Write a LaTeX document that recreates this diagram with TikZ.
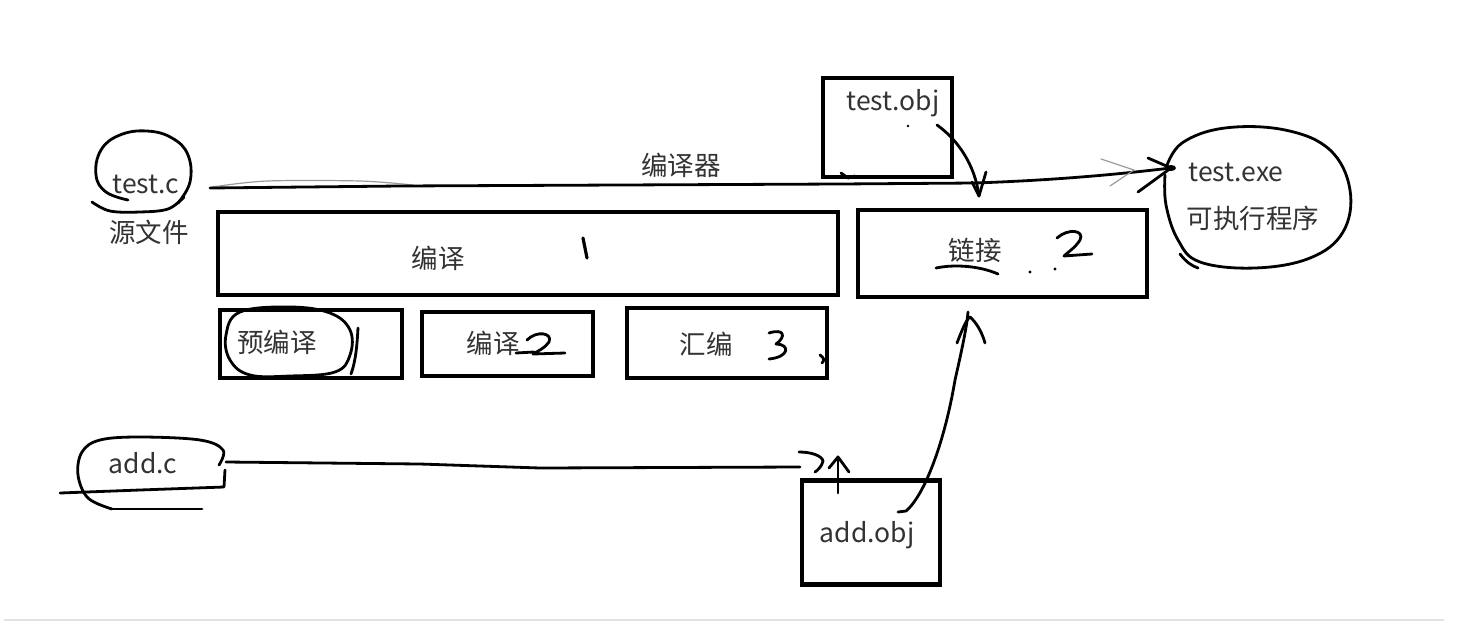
\documentclass[tikz,border=0pt]{standalone}
\usepackage{fontspec}
\setmainfont{Noto Sans CJK SC}
\definecolor{txtgray}{HTML}{333333}
\definecolor{ghost}{HTML}{9A9A9A}
\definecolor{rule}{HTML}{E2E2E2}
\begin{document}
\begin{tikzpicture}[x=1pt,y=-1pt,
  box/.style={draw=black, line width=4.5pt, inner sep=0pt},
  hand/.style={draw=black, line width=2.8pt, line cap=round, line join=round},
  thin/.style={draw=ghost, line width=1.2pt, line cap=round},
  txt/.style={text=txtgray, font=\fontsize{26.5}{31}\selectfont, inner sep=0pt}]
\useasboundingbox (0,0) rectangle (1458,635);
\fill[white] (0,0) rectangle (1458,635);

% ---------- boxes ----------
\node[box, minimum width=129pt, minimum height=99pt] (tobj) at (887.5,127.5) {};
\node[box, minimum width=620pt, minimum height=83pt] (compile) at (528,253.5) {};
\node[box, minimum width=289pt, minimum height=87pt] (link) at (1002.5,253.5) {};
\node[box, minimum width=182pt, minimum height=68pt] (pre) at (311,344) {};
\node[box, minimum width=171pt, minimum height=64pt] (comp2) at (507.5,344) {};
\node[box, minimum width=200pt, minimum height=70pt] (asm) at (727,343) {};
\node[box, minimum width=138pt, minimum height=104pt] (aobj) at (871,532.5) {};

% ---------- texts ----------
\node[txt] (tc) at (146,184) {test.c};
\node[txt] (src) at (149,232) {源文件};
\node[txt] (cc) at (681,165) {编译器};
\node[txt] (tobjt) at (893,103) {test.obj};
\node[txt] (texe) at (1236,172) {test.exe};
\node[txt] (exe) at (1253,218) {可执行程序};
\node[txt] (compt) at (438,258) {编译};
\node[txt] (linkt) at (975,250) {链接};
\node[txt] (pret) at (277,342) {预编译};
\node[txt] (comp2t) at (493,343) {编译};
\node[txt] (asmt) at (706,344) {汇编};
\node[txt] (ac) at (143,463) {add.c};
\node[txt] (aobjt) at (867,535) {add.obj};

% ---------- named points of the hand-drawn connectors ----------
\coordinate (tcOut) at (210,188);
\coordinate (exeIn) at (1171,168);
\coordinate (tobjOut) at (937,125);
\coordinate (linkTop) at (979,196);
\coordinate (acOut) at (226,462);
\coordinate (aobjIn) at (838,457);
\coordinate (aobjOut) at (898,512);
\coordinate (linkBot) at (968,312);

% ---------- circle around test.c ----------
\draw[hand] plot[smooth, tension=0.7] coordinates
  {(178,203) (190,182) (188,155) (172,138) (147,131) (120,135) (101,150) (96,175) (106,192) (128,200)};
\draw[hand] plot[smooth, tension=0.6] coordinates
  {(92,202) (110,211) (140,212) (168,209) (184,197)};

% ---------- main arrow test.c -> test.exe ----------
\draw[thin] plot[smooth, tension=0.5] coordinates {(212,187) (267,181) (360,181) (413,185)};
\draw[hand] (tcOut) -- (400,186) -- (840,184) -- (975,183) .. controls (1060,180) and (1120,174) .. (exeIn);
\draw[thin] (1101,159) -- (1134,170) -- (1110,186);
\draw[hand] (1148,158) -- (exeIn);
\draw[hand] (1138,192) -- (exeIn);
\fill[black] (exeIn) ellipse (5pt and 3pt);

% ---------- test.exe blob ----------
\draw[hand] plot[smooth, tension=0.65] coordinates
  {(1166,168) (1182,143) (1225,128) (1285,130) (1330,150) (1350,190) (1343,232) (1310,258) (1255,268) (1200,262) (1178,240) (1166,205) (1165,175)};
\draw[hand] (1180,254) .. controls (1186,262) and (1192,266) .. (1198,268);

% ---------- test.obj -> link ----------
\draw[hand] (tobjOut) .. controls (958,140) and (975,165) .. (linkTop);
\draw[hand] (972,182) -- (linkTop) -- (986,172);
\draw[hand] (841,173) -- (848,178) -- (855,176);
\fill[black] (908,126) circle (1.3pt);

% ---------- marks in the boxes ----------
\draw[hand, line width=3.2pt] (583,238) -- (587,258);
\draw[hand] (1057,238) .. controls (1068,228) and (1085,230) .. (1080,240) .. controls (1075,248) and (1068,252) .. (1064,256) -- (1092,254);
\draw[hand] (936,268) .. controls (955,264) and (980,266) .. (998,274);
\fill[black] (1030,272) circle (1.6pt);
\fill[black] (1055,269) circle (1.6pt);

% oval around 预编译 and the mark beside it
\draw[hand] plot[smooth cycle, tension=0.65] coordinates
  {(240,312) (290,307) (330,313) (350,330) (350,355) (335,372) (290,376) (250,375) (230,360) (226,335)};
\draw[hand] (358,328) .. controls (357,345) and (356,360) .. (351,374);

% 2 after 编译
\draw[hand] (516,353) -- (534,352);
\draw[hand] (527,340) .. controls (537,330) and (553,333) .. (549,342) .. controls (545,348) and (538,351) .. (533,354) -- (565,353);
% 3 after 汇编
\draw[hand] (769,333) .. controls (785,328) and (786,337) .. (776,344) .. controls (790,344) and (790,357) .. (769,359);
\draw[hand] (820,355) .. controls (824,358) and (825,360) .. (822,363);

% ---------- add.c blob ----------
\draw[hand] plot[smooth, tension=0.6] coordinates
  {(219,465) (223,450) (200,440) (140,437) (100,440) (82,452) (78,475) (88,498) (112,509)};
\draw[hand] (112,509) -- (202,509);
\draw[hand] (60,493) -- (140,490) -- (224,487) -- (225,470);

% ---------- add.c -> add.obj ----------
\draw[hand] (acOut) -- (420,464) -- (540,468) -- (800,467);
\draw[hand] (799,452) .. controls (812,452) and (822,456) .. (823,461) .. controls (822,466) and (818,470) .. (815,472);
\draw[hand] (838,493) -- (aobjIn);
\draw[hand] (829,468) -- (aobjIn) -- (849,472);

% ---------- add.obj -> link ----------
\draw[hand] (aobjOut) -- (906,511) .. controls (925,495) and (945,440) .. (955,380) .. controls (963,345) and (967,325) .. (linkBot);
\draw[hand] (957,343) .. controls (962,330) and (966,320) .. (970,317) .. controls (976,322) and (982,332) .. (985,343);

% ---------- bottom rule ----------
\draw[rule, line width=2pt] (4,620) -- (1444,620);
\end{tikzpicture}
\end{document}
